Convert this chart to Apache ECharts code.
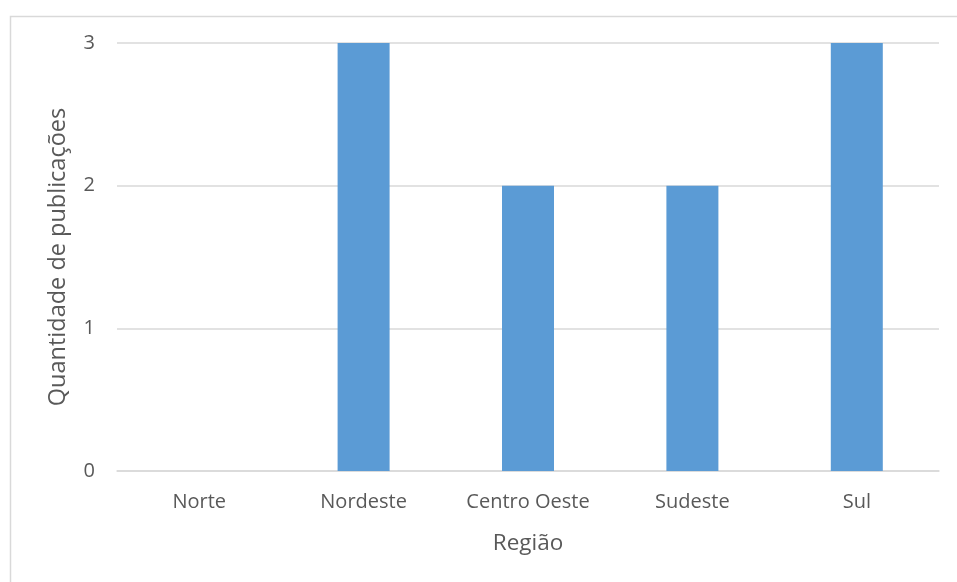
<!DOCTYPE html>
<html><head><meta charset="utf-8">
<script src="https://cdn.jsdelivr.net/npm/echarts@6/dist/echarts.min.js"></script>
<style>html,body{margin:0;padding:0;background:#fff}#c{width:957px;height:582px}</style>
</head><body><div id="c"></div>
<script>
const categories = ['Norte', 'Nordeste', 'Centro Oeste', 'Sudeste', 'Sul'];
const values = [0, 3, 2, 2, 3];
const yTicks = [0, 1, 2, 3];

const chart = echarts.init(document.getElementById('c'), null, {renderer: 'canvas'});
const font = '"Open Sans", "Noto Sans", sans-serif';
chart.setOption({
  animation: false,
  backgroundColor: '#fff',
  graphic: [{
    type: 'rect', left: 8, top: 14, z: -1,
    shape: {width: 1000, height: 620},
    style: {fill: 'none', stroke: '#d9d9d9', lineWidth: 1.5}
  }],
  grid: {left: 117, right: 18, top: 43, bottom: 111},
  xAxis: {
    type: 'category', data: categories,
    name: 'Região', nameLocation: 'middle', nameGap: 61,
    nameTextStyle: {color: '#595959', fontSize: 22.5, fontFamily: font},
    axisLine: {lineStyle: {color: '#d9d9d9', width: 1.5}},
    axisTick: {show: false},
    axisLabel: {color: '#595959', fontSize: 20, fontFamily: font, margin: 21}
  },
  yAxis: {
    type: 'value', min: yTicks[0], max: yTicks[yTicks.length - 1], interval: 1,
    name: 'Quantidade de publicações', nameLocation: 'middle', nameGap: 47, nameRotate: 90,
    nameTextStyle: {color: '#595959', fontSize: 23.5, fontFamily: font},
    axisLine: {show: false}, axisTick: {show: false},
    splitLine: {lineStyle: {color: '#d9d9d9', width: 1.5}},
    axisLabel: {color: '#595959', fontSize: 20, fontFamily: font, margin: 22}
  },
  series: [{
    type: 'bar', data: values, barWidth: 52,
    itemStyle: {color: '#5b9bd5'}
  }]
});
</script></body></html>
